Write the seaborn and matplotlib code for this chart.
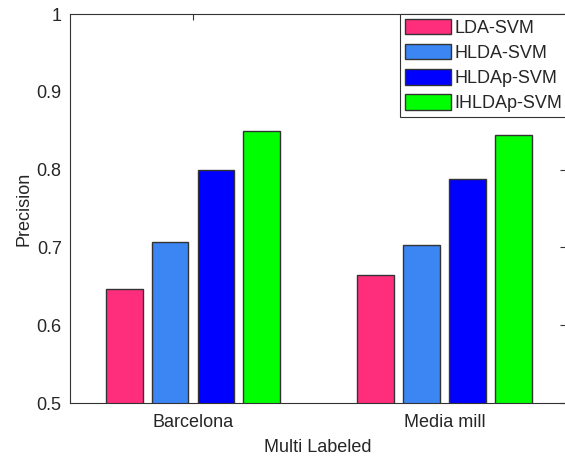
import matplotlib
matplotlib.use("Agg")
import matplotlib.pyplot as plt
import pandas as pd
import seaborn as sns

# data
datasets = ["Barcelona", "Media mill"]
methods = ["LDA-SVM", "HLDA-SVM", "HLDAp-SVM", "IHLDAp-SVM"]
barcelona = [0.646, 0.707, 0.800, 0.850]
media_mill = [0.664, 0.703, 0.788, 0.844]
colors = ["#FF2E7C", "#3B86F2", "#0000FF", "#00FF00"]
yticks = [0.5, 0.6, 0.7, 0.8, 0.9, 1.0]
ytick_labels = ["0.5", "0.6", "0.7", "0.8", "0.9", "1"]

df = pd.DataFrame({
    "dataset": [datasets[0]] * len(methods) + [datasets[1]] * len(methods),
    "method": methods * 2,
    "precision": barcelona + media_mill,
})

sns.set_theme(style="white")
plt.rcParams["font.family"] = ["Liberation Sans", "DejaVu Sans"]

fig = plt.figure(figsize=(5.65, 4.59), dpi=100)
# right edge of the axes sits just past the image border, as in the reference
ax = fig.add_axes([70 / 565, 56 / 459, 496 / 565, 389 / 459])

sns.barplot(data=df, x="dataset", y="precision", hue="method",
            palette=colors, saturation=1, width=0.73, gap=0.2,
            edgecolor="#333333", linewidth=1, ax=ax)

ax.set_ylim(0.5, 1.0)
ax.set_xlim(-0.489, 1.483)
ax.set_yticks(yticks)
ax.set_yticklabels(ytick_labels)
ax.set_xlabel("Multi Labeled", fontsize=13, color="#262626", labelpad=6)
ax.set_ylabel("Precision", fontsize=13, color="#262626", labelpad=3)

for s in ax.spines.values():
    s.set_color("#333333"); s.set_linewidth(0.8)
ax.tick_params(axis="both", direction="in", length=4, width=0.8,
               color="#333333", labelcolor="#262626", labelsize=13,
               top=True, right=True)
ax.tick_params(axis="x", pad=8)
ax.tick_params(axis="y", pad=6)

sns.move_legend(ax, loc="upper left", bbox_to_anchor=((400 - 70) / 496, 1.0),
                title=None, fontsize=13, frameon=True, fancybox=False,
                framealpha=1, borderaxespad=0, borderpad=0.25,
                handlelength=2.6, handleheight=0.95, handletextpad=0.15,
                labelspacing=0.4)
leg = ax.get_legend()
leg.get_frame().set_edgecolor("#333333")
leg.get_frame().set_linewidth(0.8)

fig.savefig("out.png", dpi=100)
